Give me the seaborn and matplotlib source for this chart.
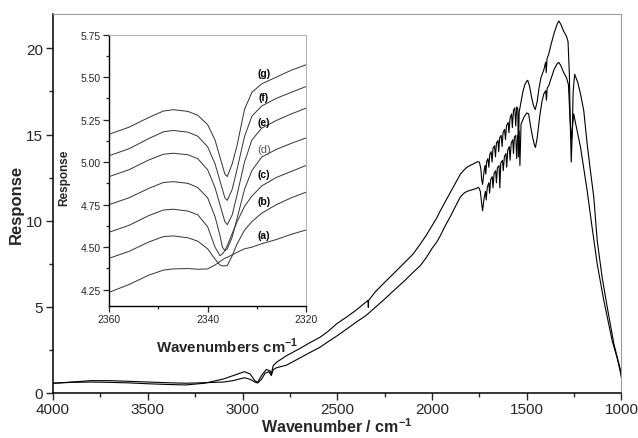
import numpy as np
import pandas as pd
import matplotlib
matplotlib.use("Agg")
import matplotlib.pyplot as plt
import seaborn as sns
from matplotlib.ticker import MultipleLocator

# ---------------- main spectra ----------------
wn_upper = [4000, 3900, 3800, 3700, 3600, 3500, 3400, 3300, 3200, 3100, 3050, 2990, 2960,
            2935, 2920, 2900, 2875, 2855, 2848, 2838, 2820, 2768, 2700, 2650, 2591, 2550,
            2500, 2450, 2400, 2345, 2338, 2336, 2334, 2330, 2300, 2250, 2200, 2150, 2100,
            2062, 2030, 2000, 1975, 1956, 1930, 1900, 1875, 1850, 1830, 1815, 1800,
            1780, 1760, 1750, 1742, 1738, 1733, 1725, 1720, 1716, 1712, 1705, 1700, 1695,
            1688, 1683, 1678, 1670, 1665, 1660, 1652, 1648, 1643, 1635, 1630, 1625, 1617,
            1612, 1607, 1598, 1594, 1588, 1580, 1576, 1570, 1563, 1558, 1553, 1547, 1544,
            1540, 1530, 1520, 1510, 1500, 1495, 1485, 1475, 1465, 1455, 1445, 1435, 1425,
            1410, 1400, 1397, 1393, 1384, 1370, 1355, 1340, 1331, 1320, 1305, 1290, 1282,
            1275, 1270, 1265, 1260, 1255, 1247, 1230, 1216, 1199, 1181, 1164, 1146, 1128,
            1102, 1075, 1040, 1005, 1000]
resp_upper = [0.55, 0.6, 0.62, 0.6, 0.57, 0.52, 0.48, 0.45, 0.55, 0.8, 0.99, 1.22, 1.09,
              0.7, 0.6, 0.99, 1.34, 1.28, 1.09, 1.57, 1.77, 2.15, 2.55, 2.87, 3.22, 3.55,
              4.03, 4.4, 4.8, 5.3, 5.36, 4.96, 5.38, 5.42, 5.85, 6.41, 6.95, 7.5, 8.05,
              8.63, 9.15, 9.7, 10.15, 10.57, 11.1, 11.7, 12.2, 12.7, 12.95, 13.1, 13.2,
              13.3, 13.42, 13.4, 13.0, 12.4, 12.1, 12.9, 13.2, 12.7, 13.4, 13.6, 13.1, 13.85,
              14.0, 13.4, 14.2, 14.35, 13.7, 14.5, 14.65, 14.0, 14.8, 14.95, 14.3, 15.1, 15.3,
              14.7, 15.5, 15.7, 15.1, 15.95, 16.2, 15.4, 16.4, 16.55, 15.5, 16.6, 16.5, 13.7,
              16.3, 16.9, 17.5, 17.9, 18.1, 18.15, 17.8, 17.2, 16.7, 16.45, 16.9, 17.7, 18.3,
              18.75, 19.2, 18.6, 19.4, 19.67, 20.3, 20.9, 21.4, 21.6, 21.4, 21.0, 20.7, 20.4,
              18.5, 15.5, 13.4, 15.0, 17.5, 18.5, 18.0, 17.35, 16.38, 14.44, 12.9, 11.35, 8.83,
              6.7, 4.96, 2.83, 1.3, 0.85]

wn_lower = [4000, 3900, 3800, 3700, 3600, 3500, 3400, 3300, 3200, 3100, 3050, 2990, 2960,
            2935, 2920, 2900, 2880, 2860, 2848, 2838, 2820, 2768, 2700, 2650, 2591, 2550,
            2500, 2450, 2400, 2350, 2300, 2250, 2200, 2150, 2100, 2062, 2030, 2000, 1975,
            1956, 1930, 1900, 1875, 1850, 1830, 1815, 1800, 1770, 1754, 1745, 1738,
            1733, 1725, 1718, 1714, 1708, 1700, 1696, 1690, 1682, 1678, 1672, 1664, 1660,
            1655, 1646, 1642, 1637, 1628, 1624, 1618, 1610, 1606, 1600, 1592, 1588, 1582,
            1574, 1570, 1565, 1558, 1553, 1548, 1540, 1536, 1530, 1515, 1500, 1490, 1480,
            1470, 1460, 1454, 1445, 1432, 1420, 1410, 1400, 1396, 1392, 1384, 1370, 1355,
            1340, 1331, 1320, 1305, 1290, 1280, 1272, 1264, 1258, 1252, 1245, 1230, 1216,
            1200, 1181, 1155, 1128, 1093, 1049, 1020, 1000]
resp_lower = [0.55, 0.62, 0.7, 0.7, 0.66, 0.62, 0.58, 0.55, 0.58, 0.62, 0.7, 0.87, 0.78,
              0.62, 0.56, 0.78, 1.14, 1.22, 0.99, 1.34, 1.45, 1.6, 2.0, 2.3, 2.64, 2.95,
              3.31, 3.7, 4.1, 4.47, 4.95, 5.44, 5.95, 6.45, 6.99, 7.38, 7.85, 8.38, 8.75,
              9.12, 9.7, 10.3, 10.85, 11.38, 11.6, 11.7, 11.75, 11.85, 11.93, 11.7, 11.0,
              10.57, 11.3, 11.7, 11.2, 11.95, 12.2, 11.6, 12.4, 12.55, 11.9, 12.75, 12.9, 12.2,
              13.05, 13.2, 11.9, 13.35, 13.5, 12.9, 13.7, 13.9, 13.1, 14.1, 14.3, 13.5, 14.5,
              14.7, 13.9, 14.85, 14.95, 13.6, 14.9, 15.2, 13.2, 15.6, 16.0, 16.25, 16.2, 15.5,
              14.9, 14.4, 14.25, 14.8, 16.0, 16.9, 17.35, 17.55, 17.0, 17.7, 17.83, 18.3, 18.8,
              19.1, 19.19, 19.0, 18.6, 18.3, 17.9, 16.0, 14.7, 15.5, 16.2, 15.8, 15.0, 14.25,
              13.1, 11.73, 9.6, 7.47, 5.34, 3.02, 1.9, 0.9]

# ---------------- inset spectra (a)-(g) ----------------
wn_inset = [2360, 2356, 2352, 2349, 2347, 2344, 2342, 2340, 2338.5, 2337.5, 2337, 2336.5,
            2336, 2335, 2334, 2332.5, 2331, 2329, 2326, 2323, 2320]
inset_a = [4.235, 4.28, 4.335, 4.365, 4.372, 4.374, 4.37, 4.372, 4.395, 4.415, 4.425, 4.435,
           4.44, 4.455, 4.47, 4.49, 4.50, 4.52, 4.545, 4.575, 4.601]
inset_b = [4.435, 4.475, 4.53, 4.562, 4.566, 4.555, 4.535, 4.49, 4.43, 4.395, 4.39, 4.39,
           4.392, 4.45, 4.52, 4.60, 4.65, 4.70, 4.75, 4.79, 4.823]
inset_c = [4.588, 4.628, 4.685, 4.718, 4.723, 4.712, 4.69, 4.62, 4.50, 4.45, 4.46, 4.48,
           4.51, 4.58, 4.65, 4.74, 4.80, 4.86, 4.91, 4.945, 4.98]
inset_d = [4.75, 4.79, 4.845, 4.88, 4.885, 4.875, 4.85, 4.79, 4.68, 4.57, 4.50, 4.48,
           4.49, 4.56, 4.67, 4.84, 4.95, 5.03, 5.075, 5.11, 5.142]
inset_e = [4.915, 4.955, 5.012, 5.046, 5.052, 5.043, 5.02, 4.955, 4.85, 4.75, 4.70, 4.65,
           4.632, 4.69, 4.81, 5.00, 5.13, 5.20, 5.245, 5.283, 5.317]
inset_f = [5.038, 5.078, 5.138, 5.178, 5.186, 5.176, 5.152, 5.09, 4.99, 4.89, 4.84, 4.79,
           4.775, 4.84, 4.96, 5.15, 5.27, 5.33, 5.375, 5.41, 5.444]
inset_g = [5.164, 5.205, 5.262, 5.300, 5.308, 5.298, 5.275, 5.22, 5.13, 5.03, 4.98, 4.93,
           4.915, 4.99, 5.10, 5.31, 5.41, 5.46, 5.50, 5.54, 5.572]
inset_labels = ["(a)", "(b)", "(c)", "(d)", "(e)", "(f)", "(g)"]
label_y = [4.57, 4.774, 4.93, 5.076, 5.235, 5.382, 5.523]

main_xticks = [4000, 3500, 3000, 2500, 2000, 1500, 1000]
main_yticks = [0, 5, 10, 15, 20]
inset_xticks = [2360, 2340, 2320]
inset_yticks = [4.25, 4.50, 4.75, 5.00, 5.25, 5.50, 5.75]

# ---------------- style ----------------
sns.set_style("ticks")
plt.rcParams["font.family"] = ["Liberation Sans", "DejaVu Sans"]
plt.rcParams["mathtext.fontset"] = "custom"
plt.rcParams["mathtext.rm"] = "Liberation Sans"
plt.rcParams["mathtext.bf"] = "Liberation Sans:bold"

fig = plt.figure(figsize=(6.38, 4.39), dpi=100)
ax = fig.add_axes([0.0831, 0.1032, 0.8910, 0.8626])

df_u = pd.DataFrame({"wn": wn_upper, "r": resp_upper})
df_l = pd.DataFrame({"wn": wn_lower, "r": resp_lower})
sns.lineplot(data=df_u, x="wn", y="r", sort=False, estimator=None, color="black", lw=0.8, ax=ax)
sns.lineplot(data=df_l, x="wn", y="r", sort=False, estimator=None, color="black", lw=0.8, ax=ax)

ax.set_xlim(4000, 1000)
ax.set_ylim(0, 22)
ax.set_xticks(main_xticks)
ax.set_yticks(main_yticks)
ax.xaxis.set_minor_locator(MultipleLocator(250))
ax.yaxis.set_minor_locator(MultipleLocator(2.5))
ax.tick_params(which="major", direction="out", length=5, width=1, labelsize=11, pad=2)
ax.tick_params(which="minor", direction="out", length=3, width=1)
ax.set_xlabel(r"Wavenumber / cm$^{\mathbf{-1}}$", fontsize=11.5, fontweight="bold", labelpad=0)
ax.set_ylabel("Response", fontsize=12, fontweight="bold", labelpad=2)
for s in ["left", "bottom"]:
    ax.spines[s].set_color("black")
    ax.spines[s].set_linewidth(1.1)
for s in ["top", "right"]:
    ax.spines[s].set_visible(True)
    ax.spines[s].set_color("#9a9a9a")
    ax.spines[s].set_linewidth(0.8)

# ---------------- inset ----------------
ins = fig.add_axes([0.1713, 0.3007, 0.3083, 0.6184])
series = [inset_a, inset_b, inset_c, inset_d, inset_e, inset_f, inset_g]
rows = []
for lab, vals in zip(inset_labels, series):
    for w, v in zip(wn_inset, vals):
        rows.append({"wn": w, "r": v, "s": lab})
df_in = pd.DataFrame(rows)
sns.lineplot(data=df_in, x="wn", y="r", units="s", estimator=None, sort=False,
             color="#333333", lw=0.7, ax=ins)
ins.set_xlim(2360, 2320)
ins.set_ylim(4.154, 5.75)
ins.set_xticks(inset_xticks)
ins.set_yticks(inset_yticks)
ins.set_yticklabels([f"{v:.2f}" for v in inset_yticks])
ins.xaxis.set_minor_locator(MultipleLocator(10))
ins.yaxis.set_minor_locator(MultipleLocator(0.125))
ins.tick_params(which="major", direction="out", length=4, width=0.9, labelsize=7.5, pad=2)
ins.tick_params(which="minor", direction="out", length=2.5, width=0.9)
ins.set_xlabel(r"Wavenumbers cm$^{\mathbf{-1}}$", fontsize=10.8, fontweight="bold")
ins.xaxis.set_label_coords(0.598, -0.11)
ins.set_ylabel("Response", fontsize=8.5, fontweight="bold")
ins.yaxis.set_label_coords(-0.2, 0.475)
for s in ["left", "bottom"]:
    ins.spines[s].set_color("black")
    ins.spines[s].set_linewidth(1.0)
for s in ["top", "right"]:
    ins.spines[s].set_visible(True)
    ins.spines[s].set_color("#b0b0b0")
    ins.spines[s].set_linewidth(0.7)

for lab, ly in zip(inset_labels, label_y):
    if lab == "(d)":
        ins.text(2328.6, ly, lab, fontsize=8, color="#555555", ha="center", va="center")
    else:
        ins.text(2328.6, ly, lab, fontsize=7.5, fontweight="bold", color="black",
                 ha="center", va="center")

fig.savefig("out.png", dpi=100)
